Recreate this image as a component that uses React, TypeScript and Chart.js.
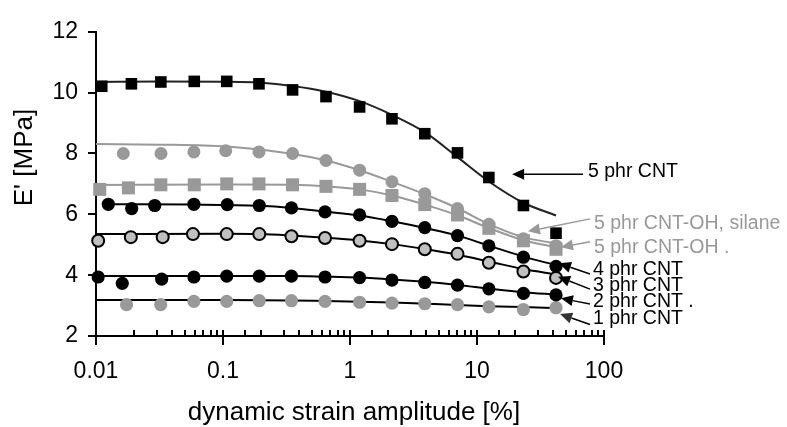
import { useEffect, useRef } from "react";
import { Chart, registerables } from "chart.js";

Chart.register(...registerables);

const FONT = "'Liberation Sans', Arial, Helvetica, sans-serif";
const BLACK = "#000000";
const GRAY = "#999999";
const LIGHT = "#c0c0c0";

// ---------- measured data (strain amplitude [%], E' [MPa]) ----------
const strain5CNT = [0.0111, 0.019, 0.0324, 0.0594, 0.107, 0.192, 0.353, 0.647, 1.19, 2.14, 3.88, 7.02, 12.4, 23.2, 41.9];
const modulus5CNT = [10.21, 10.29, 10.35, 10.37, 10.37, 10.29, 10.09, 9.87, 9.53, 9.14, 8.65, 8.02, 7.21, 6.29, 5.38];

const strainSilane = [0.0164, 0.0325, 0.059, 0.105, 0.192, 0.353, 0.647, 1.19, 2.14, 3.88, 7.02, 12.4, 23.2, 41.9];
const modulusSilane = [8.0, 8.0, 8.05, 8.09, 8.05, 8.0, 7.77, 7.45, 7.07, 6.68, 6.19, 5.67, 5.2, 4.97];

const strainOH = [0.0107, 0.018, 0.0324, 0.0594, 0.107, 0.192, 0.353, 0.647, 1.19, 2.14, 3.88, 7.02, 12.4, 23.2, 41.9];
const modulusOH = [6.82, 6.87, 6.97, 6.97, 7.0, 7.0, 6.97, 6.92, 6.82, 6.62, 6.32, 5.98, 5.54, 5.13, 4.85];

const strain4CNT = [0.0125, 0.0191, 0.029, 0.059, 0.108, 0.193, 0.346, 0.636, 1.19, 2.14, 3.88, 7.02, 12.4, 23.2, 41.9];
const modulus4CNT = [6.33, 6.19, 6.29, 6.33, 6.32, 6.29, 6.21, 6.08, 5.98, 5.77, 5.56, 5.3, 4.96, 4.59, 4.29];

const strain3CNT = [0.0104, 0.0188, 0.0335, 0.058, 0.107, 0.193, 0.346, 0.636, 1.19, 2.14, 3.88, 7.02, 12.4, 23.2, 41.9];
const modulus3CNT = [5.13, 5.25, 5.25, 5.35, 5.35, 5.35, 5.28, 5.22, 5.13, 5.02, 4.85, 4.7, 4.41, 4.12, 3.91];

const strain2CNT = [0.0104, 0.0161, 0.0329, 0.059, 0.107, 0.193, 0.346, 0.636, 1.19, 2.14, 3.88, 7.02, 12.4, 23.2, 41.9];
const modulus2CNT = [3.94, 3.73, 3.87, 3.94, 3.97, 3.97, 3.97, 3.94, 3.92, 3.84, 3.76, 3.67, 3.55, 3.4, 3.35];

const strain1CNT = [0.0174, 0.0323, 0.059, 0.107, 0.193, 0.346, 0.636, 1.19, 2.14, 3.88, 7.02, 12.4, 23.2, 41.9];
const modulus1CNT = [3.03, 3.03, 3.14, 3.14, 3.16, 3.16, 3.14, 3.11, 3.08, 3.06, 3.03, 2.96, 2.87, 2.93];

// ---------- fitted curves ----------
const fitStrain5CNT = [0.01, 0.0324, 0.107, 0.192, 0.353, 0.647, 1.19, 2.14, 3.88, 7.02, 12.4, 23.2, 41.9];
const fitModulus5CNT = [10.35, 10.37, 10.36, 10.33, 10.22, 10.03, 9.72, 9.27, 8.7, 7.88, 7.08, 6.38, 5.96];

const fitStrainSilane = [0.01, 0.0325, 0.105, 0.192, 0.353, 0.647, 1.19, 2.14, 3.88, 7.02, 12.4, 23.2, 41.9];
const fitModulusSilane = [8.31, 8.29, 8.23, 8.13, 7.98, 7.77, 7.45, 7.07, 6.66, 6.2, 5.68, 5.25, 5.04];

const fitStrainOH = [0.01, 0.107, 0.353, 0.647, 1.19, 2.14, 3.88, 7.02, 12.4, 23.2, 41.9];
const fitModulusOH = [6.96, 6.98, 6.97, 6.92, 6.82, 6.62, 6.32, 5.97, 5.55, 5.15, 4.92];

const fitStrain4CNT = [0.0125, 0.059, 0.193, 0.346, 0.636, 1.19, 2.14, 3.88, 7.02, 12.4, 23.2, 41.9];
const fitModulus4CNT = [6.33, 6.32, 6.28, 6.21, 6.09, 5.96, 5.77, 5.55, 5.3, 4.97, 4.61, 4.33];

const fitStrain3CNT = [0.01, 0.107, 0.193, 0.346, 0.636, 1.19, 2.14, 3.88, 7.02, 12.4, 23.2, 41.9];
const fitModulus3CNT = [5.35, 5.36, 5.35, 5.3, 5.23, 5.14, 5.02, 4.86, 4.67, 4.45, 4.2, 4.02];

const fitStrain2CNT = [0.01, 0.107, 0.346, 0.636, 1.19, 2.14, 3.88, 7.02, 12.4, 23.2, 41.9];
const fitModulus2CNT = [3.97, 3.97, 3.97, 3.95, 3.92, 3.86, 3.78, 3.68, 3.56, 3.44, 3.36];

const fitStrain1CNT = [0.01, 0.107, 0.346, 0.636, 1.19, 2.14, 3.88, 7.02, 12.4, 23.2, 41.9];
const fitModulus1CNT = [3.18, 3.18, 3.17, 3.15, 3.13, 3.1, 3.06, 3.02, 2.98, 2.95, 2.92];

// ---------- axes ----------
const xTickLabels = ["0.01", "0.1", "1", "10", "100"];
const yTickLabels = [2, 4, 6, 8, 10, 12];
const xTitle = "dynamic strain amplitude [%]";
const yTitle = "E' [MPa]";

// ---------- annotations (data coordinates) ----------
const annotationTexts = ["5 phr CNT", "5 phr CNT-OH, silane", "5 phr CNT-OH .", "4 phr CNT", "3 phr CNT", "2 phr CNT .", "1 phr CNT"];
const annotationTextColors = [BLACK, GRAY, GRAY, BLACK, BLACK, BLACK, BLACK];
const annotationHeadColors = [BLACK, GRAY, GRAY, BLACK, BLACK, BLACK, "#333333"];
const labelStrain = [74.8, 83.4, 83.4, 81.9, 81.9, 81.9, 81.9];
const labelModulus = [7.41, 5.71, 4.92, 4.17, 3.64, 3.12, 2.57];
const tailStrain = [68.4, 77.6, 77.6, 77.6, 77.6, 77.6, 77.6];
const tailModulus = [7.32, 5.85, 5.1, 4.04, 3.54, 3.05, 2.38];
const tipStrain = [18.9, 25.2, 45.8, 44.2, 43.5, 45.8, 45.1];
const tipModulus = [7.32, 5.44, 4.92, 4.39, 3.95, 3.24, 2.72];

const pts = (xs: number[], ys: number[]) => xs.map((x, i) => ({ x, y: ys[i] }));

const isDecade = (v: number) => {
  const l = Math.log10(v);
  return Math.abs(l - Math.round(l)) < 1e-6;
};

function markers(data: any[], style: string, radius: number, fill: string, border: string, bw: number) {
  return {
    data,
    showLine: false,
    pointStyle: style,
    pointRadius: radius,
    pointHoverRadius: radius,
    backgroundColor: fill,
    borderColor: border,
    pointBorderWidth: bw,
    borderWidth: bw,
    clip: false,
    order: 1,
  };
}

function fit(data: any[], color: string) {
  return {
    data,
    showLine: true,
    pointRadius: 0,
    borderColor: color,
    borderWidth: 2,
    cubicInterpolationMode: "monotone",
    fill: false,
    clip: false,
    order: 2,
  };
}

const decorPlugin = {
  id: "decor",
  beforeDraw(chart: any) {
    const { ctx, width, height } = chart;
    ctx.save();
    ctx.fillStyle = "#ffffff";
    ctx.fillRect(0, 0, width, height);
    ctx.restore();
  },
  afterDraw(chart: any) {
    const { ctx, chartArea } = chart;
    const xs = chart.scales.x;
    const ys = chart.scales.y;
    ctx.save();
    ctx.strokeStyle = BLACK;
    ctx.lineWidth = 2;
    ctx.beginPath();
    xs.ticks.forEach((t: any) => {
      const px = Math.round(xs.getPixelForValue(t.value));
      const major = isDecade(t.value);
      ctx.moveTo(px, chartArea.bottom - 6);
      ctx.lineTo(px, chartArea.bottom + (major ? 9 : 0));
    });
    ys.ticks.forEach((t: any) => {
      const py = Math.round(ys.getPixelForValue(t.value));
      ctx.moveTo(chartArea.left - 8, py);
      ctx.lineTo(chartArea.left, py);
    });
    ctx.stroke();

    // axis titles
    ctx.fillStyle = BLACK;
    ctx.font = `26px ${FONT}`;
    ctx.textAlign = "center";
    ctx.textBaseline = "alphabetic";
    ctx.fillText(xTitle, (chartArea.left + chartArea.right) / 2 + 4, 420);
    ctx.save();
    ctx.translate(32, 157.5);
    ctx.rotate(-Math.PI / 2);
    ctx.fillText(yTitle, 0, 0);
    ctx.restore();

    // annotations
    ctx.font = `19.5px ${FONT}`;
    ctx.textAlign = "left";
    ctx.textBaseline = "middle";
    annotationTexts.forEach((txt, i) => {
      const tx = xs.getPixelForValue(labelStrain[i]);
      const ty = ys.getPixelForValue(labelModulus[i]);
      const ax = xs.getPixelForValue(tailStrain[i]);
      const ay = ys.getPixelForValue(tailModulus[i]);
      const bx = xs.getPixelForValue(tipStrain[i]);
      const by = ys.getPixelForValue(tipModulus[i]);
      const ang = Math.atan2(by - ay, bx - ax);
      const hl = 12;
      const hw = 5.5;
      const baseX = bx - hl * Math.cos(ang);
      const baseY = by - hl * Math.sin(ang);
      ctx.strokeStyle = annotationTextColors[i];
      ctx.lineWidth = 1.5;
      ctx.beginPath();
      ctx.moveTo(ax, ay);
      ctx.lineTo(baseX, baseY);
      ctx.stroke();
      ctx.fillStyle = annotationHeadColors[i];
      ctx.beginPath();
      ctx.moveTo(bx, by);
      ctx.lineTo(baseX + hw * Math.sin(ang), baseY - hw * Math.cos(ang));
      ctx.lineTo(baseX - hw * Math.sin(ang), baseY + hw * Math.cos(ang));
      ctx.closePath();
      ctx.fill();
      ctx.fillStyle = annotationTextColors[i];
      ctx.fillText(txt, tx, ty);
    });
    ctx.restore();
  },
};

export default function App() {
  const ref = useRef<HTMLCanvasElement | null>(null);

  useEffect(() => {
    document.body.style.margin = "0";
    const canvas = ref.current;
    if (!canvas) return;
    const chart = new Chart(canvas, {
      type: "scatter",
      data: {
        datasets: [
          markers(pts(strain5CNT, modulus5CNT), "rect", 8.2, BLACK, BLACK, 0),
          markers(pts(strainSilane, modulusSilane), "circle", 6.5, GRAY, GRAY, 0),
          markers(pts(strainOH, modulusOH), "rect", 9.2, GRAY, GRAY, 0),
          markers(pts(strain4CNT, modulus4CNT), "circle", 6.6, BLACK, BLACK, 0),
          markers(pts(strain3CNT, modulus3CNT), "circle", 6, LIGHT, BLACK, 2),
          markers(pts(strain2CNT, modulus2CNT), "circle", 6.6, BLACK, BLACK, 0),
          markers(pts(strain1CNT, modulus1CNT), "circle", 6.6, GRAY, GRAY, 0),
          fit(pts(fitStrain5CNT, fitModulus5CNT), "#222222"),
          fit(pts(fitStrainSilane, fitModulusSilane), GRAY),
          fit(pts(fitStrainOH, fitModulusOH), GRAY),
          fit(pts(fitStrain4CNT, fitModulus4CNT), BLACK),
          fit(pts(fitStrain3CNT, fitModulus3CNT), BLACK),
          fit(pts(fitStrain2CNT, fitModulus2CNT), BLACK),
          fit(pts(fitStrain1CNT, fitModulus1CNT), BLACK),
        ] as any,
      },
      options: {
        animation: false,
        responsive: false,
        devicePixelRatio: 1,
        layout: { padding: { top: 18, right: 183, left: 0, bottom: 0 } },
        plugins: {
          legend: { display: false },
          tooltip: { enabled: false },
        },
        scales: {
          x: {
            type: "logarithmic",
            position: "bottom",
            min: 0.01,
            max: 100,
            afterFit: (s: any) => {
              s.height = 91;
            },
            grid: { display: false, drawTicks: false },
            border: { display: true, color: BLACK, width: 2 },
            ticks: {
              autoSkip: false,
              maxRotation: 0,
              minRotation: 0,
              padding: 22,
              color: BLACK,
              font: { family: FONT, size: 23 },
              callback: (v: any) => {
                const n = Number(v);
                const lbl = xTickLabels.find((s) => Math.abs(parseFloat(s) - n) < 1e-9 * Math.max(1, n));
                return lbl ?? "";
              },
            },
          },
          y: {
            type: "linear",
            min: 2,
            max: 12,
            afterFit: (s: any) => {
              s.width = 96;
            },
            grid: { display: false, drawTicks: false },
            border: { display: true, color: BLACK, width: 2 },
            ticks: {
              stepSize: 1,
              padding: 18,
              color: BLACK,
              font: { family: FONT, size: 23 },
              callback: (v: any) => (yTickLabels.includes(Number(v)) ? String(v) : ""),
            },
          },
        },
      } as any,
      plugins: [decorPlugin],
    });
    return () => chart.destroy();
  }, []);

  return (
    <div style={{ width: 787, height: 427 }}>
      <canvas ref={ref} width={787} height={427} style={{ display: "block" }} />
    </div>
  );
}
